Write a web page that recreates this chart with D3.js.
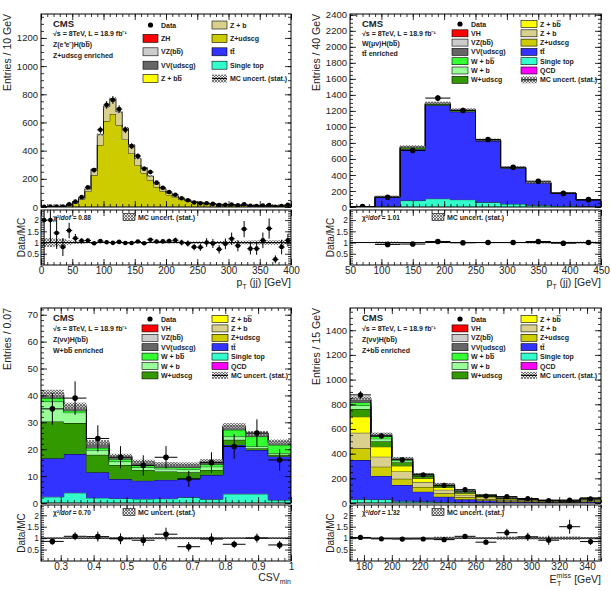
<!DOCTYPE html>
<html>
<head>
<meta charset="utf-8">
<title></title>
<style type="text/css">
*{ margin:0; padding:0; }
body{ background:#fff; }
svg{ display:block; }
</style>
</head>
<body>
<script src="https://cdn.jsdelivr.net/npm/d3@7"></script>
<script>
var FONT = "'Liberation Sans', Arial, Helvetica, sans-serif";

// ---------- panel 1 : Z(ee)H, Z+udscg enriched, pT(jj), 10 GeV bins
var p1Data    = [1,4,4,4,20,38,70,140,262,548,725,760,695,548,432,362,272,248,173,137,107,87,62,48,32,26,27,22,14,16,18,12,20,8,7,10,13,2,6,15];
var p1Zudscg  = [0,1.5,1.8,4,10,25,55,110,225,440,610,660,580,480,380,297,240,190,142,112,86,68,53,43,34,28,23,20,17,14.5,13,12,10.5,9.3,8.1,7.7,6.8,6.8,6.4,11.6];
var p1Zb      = [0.5,0.5,1,1,3,7,10,18,45,75,105,110,95,80,60,48,40,30,23,18,14,11,9,7,6,5,4,3,3,2.5,2.4,2,2,1.7,1.5,1.4,1.2,1.2,1.1,2];
var p1Unc     = [0.1,0.4,0.5,0.8,1.3,2,3,4,6,8,9,9,9,8,7,6,5,5,4,4,3,3,2.5,2.2,2,1.8,1.6,1.5,1.4,1.3,1.2,1.1,1,1,0.9,0.9,0.8,0.8,0.8,1.1];
var p1XTicks  = [0,50,100,150,200,250,300,350,400];
var p1YTicks  = [0,200,400,600,800,1000,1200];

// ---------- panel 2 : W(munu)H, ttbar enriched, pT(jj), 40 GeV bins
var p2Data    = [5,122,705,1360,1205,842,496,322,170,92];
var p2Stop    = [0,8,80,104,92,58,38,21,12,6];
var p2Tt      = [0,115,640,1166,1097,766,446,280,159,84];
var p2Wudscg  = [0,5,20,15,14,9,6,3,2,1];
var p2Wb      = [0,2,6,5,5,3,2,1,1,0.5];
var p2Wbb     = [0,1,4,4,4,3,2,1,0.5,0.3];
var p2VV      = [0,2,6,6,5,3,2,2,0.5,0.2];
var p2Unc     = [0,6,14,16,15,12,10,12,6,4];
var p2XTicks  = [50,100,150,200,250,300,350,400,450];
var p2YTicks  = [0,200,400,600,800,1000,1200,1400,1600,1800,2000,2200,2400];

// ---------- panel 3 : Z(nunu)H, W+bb enriched, CSVmin
var p3Data    = [35,39,24,17,14,17,9,15,21,26,16];
var p3Stop    = [2.3,3.8,1.9,1.7,1.5,1.6,2.1,1.4,3.4,3.4,1.1];
var p3Tt      = [14.3,14.4,9.5,7.2,6.8,7.0,6.8,9.0,18.2,16.3,16.2];
var p3Wudscg  = [13.7,11.5,6.5,5.2,4.0,3.1,2.5,1.9,1.9,0.7,0.6];
var p3Wb      = [7.4,3.9,1.8,1.3,0.9,1.0,1.1,1.2,1.2,0.6,0.6];
var p3Wbb     = [1.3,0.7,0.8,0.9,0.7,0.6,0.7,0.9,2.5,3.7,3.1];
var p3VV      = [1.2,1.2,1.5,0.9,1.1,0.9,0.9,0.9,1.2,0.9,0.9];
var p3VZ      = [0.6,0.6,0.5,0.3,0.4,0.3,0.3,0.3,0.3,0.3,0.3];
var p3Unc     = [1.3,1.2,0.9,0.8,0.7,0.7,0.7,0.7,1.0,0.9,0.8];
var p3XTicks  = [0.3,0.4,0.5,0.6,0.7,0.8,0.9,1];
var p3YTicks  = [0,10,20,30,40,50,60,70];

// ---------- panel 4 : Z(nunu)H, Z+bb enriched, MET, 15 GeV bins
var p4Data    = [876,543,350,228,143,108,56,52,36,20,24,34];
var p4Stop    = [30,28,15,12,8,5,3,2,2,1,1,1];
var p4Tt      = [318,191,131,80,43,25,17,11,9,6,4,10];
var p4Zudscg  = [95,75,50,38,28,18,12,7,6,4,3,7];
var p4Zb      = [126,81,60,40,28,18,12,7,6,4,3,7];
var p4Zbb     = [130,81,45,30,20,13,9,6,4,3,2,6];
var p4Wudscg  = [63,45,30,18,12,9,6,4,3,2,1.5,4];
var p4Wb      = [28,20,12,8,6,4,3,2,1.5,0.8,0.6,2];
var p4Wbb     = [25,18,10,5,4,4,3,1.5,1.5,0.7,0.5,1.5];
var p4VV      = [22,14,8,4,3,3,2,1,0.7,0.3,0.3,1];
var p4VZ      = [13,7,4,2,1,1,1,0.5,0.3,0.2,0.1,0.5];
var p4Unc     = [14,10,7,5,10,4,3,3,2,1.5,1.2,2];
var p4XTicks  = [180,200,220,240,260,280,300,320,340];
var p4YTicks  = [0,200,400,600,800,1000,1200,1400];

var ratioTicks = [0.5,1,1.5,2];

var colors = {
	VH:"#ff0000", VZbb:"#cccccc", VVudscg:"#666666",
	Wbb:"#33ff33", Wb:"#99ff99", Wudscg:"#339900",
	Zbb:"#ffff00", Zb:"#d8d08c", Zudscg:"#cccc00",
	tt:"#3333ff", stop:"#33ffcc", QCD:"#ff00ff"
};
// "~x" puts a bar over the character x
var names = {
	VH:"VH", ZH:"ZH", VZbb:"VZ(b~b)", VVudscg:"VV(udscg)",
	Wbb:"W + b~b", Wb:"W + b", Wudscg:"W+udscg",
	Zbb:"Z + b~b", Zb:"Z + b", Zudscg:"Z+udscg",
	tt:"t~t", stop:"Single top", QCD:"QCD"
};

var svg = d3.select("body").append("svg").attr("width",611).attr("height",591)
	.attr("font-family",FONT);

var defs = svg.append("defs");
var pat = defs.append("pattern").attr("id","hatch").attr("patternUnits","userSpaceOnUse")
	.attr("width",3).attr("height",3);
pat.append("rect").attr("width",3).attr("height",3).attr("fill","#dcdcdc").attr("fill-opacity",0.6);
pat.append("path").attr("d","M0,0L3,3M3,0L0,3").attr("stroke","#444").attr("stroke-width",0.7);

function steps(lo, hi, s){
	var out = [];
	for (var v = Math.ceil(lo/s - 1e-9)*s; v <= hi + 1e-9; v += s) out.push(+v.toFixed(6));
	return out;
}

// text with "~x" -> x with overline
function barText(sel, str){
	str.split(/(~.)/).forEach(function(p){
		if (!p) return;
		if (p[0] == "~") sel.append("tspan").style("text-decoration","overline").text(p[1]);
		else sel.append("tspan").text(p);
	});
	return sel;
}

// inside ticks on one side of a frame, with optional labels
function axis(g, side, scale, pos, vals, len, fmt, size, pad){
	var a = side=="bottom" ? d3.axisBottom(scale) : side=="top" ? d3.axisTop(scale)
		: side=="left" ? d3.axisLeft(scale) : d3.axisRight(scale);
	a.tickValues(vals).tickSize(-len).tickPadding(pad || 3).tickFormat(fmt || function(){ return ""; });
	var tr = (side=="bottom"||side=="top") ? "translate(0,"+pos+")" : "translate("+pos+",0)";
	var ag = g.append("g").attr("transform",tr).call(a);
	ag.attr("font-family",FONT).attr("font-size",size || 10);
	ag.select(".domain").remove();
	ag.selectAll("line").attr("stroke","#000").attr("stroke-width",0.8);
	ag.selectAll("text").attr("fill","#222");
}

function richText(g, x, y, parts, size, anchor, rot){
	var t = g.append("text").attr("font-size",size).attr("fill","#222")
		.attr("text-anchor",anchor || "start");
	if (rot) t.attr("transform","translate("+x+","+y+") rotate(-90)");
	else t.attr("x",x).attr("y",y);
	parts.forEach(function(p){
		var s = t.append("tspan").text(p.t);
		if (p.size) s.attr("font-size",p.size);
		if (p.dy) s.attr("dy",p.dy);
		if (p.dx) s.attr("dx",p.dx);
		if (p.it) s.attr("font-style","italic");
	});
	return t;
}

function drawPanel(c){
	var n = c.data.length;
	var x = d3.scaleLinear().domain([c.xMin, c.xMax]).range([c.left, c.right]);
	var y = d3.scaleLinear().domain([0, c.yMax]).range([c.bottom, c.top]);
	var r = d3.scaleLinear().domain([0, 2.45]).range([c.rBot, c.rTop]);
	var bw = (c.xMax - c.xMin)/n;
	var edges = d3.range(n+1).map(function(i){ return c.xMin + i*bw; });
	var g = svg.append("g");

	defs.append("clipPath").attr("id","cm"+c.id).append("rect")
		.attr("x",c.left).attr("y",c.top).attr("width",c.right-c.left).attr("height",c.bottom-c.top);
	defs.append("clipPath").attr("id","cr"+c.id).append("rect")
		.attr("x",c.left).attr("y",c.rTop).attr("width",c.right-c.left).attr("height",c.rBot-c.rTop);

	// stacked MC
	var keys = c.layers.map(function(l){ return l.key; });
	var rows = d3.range(n).map(function(i){
		var o = {}; c.layers.forEach(function(l){ o[l.key] = l.values[i]; }); return o;
	});
	var series = d3.stack().keys(keys)(rows);
	var total = d3.range(n).map(function(i){ return series[series.length-1][i][1]; });

	var gm = g.append("g").attr("clip-path","url(#cm"+c.id+")");
	var area = d3.area().curve(d3.curveStepAfter)
		.x(function(d){ return x(d.e); }).y0(function(d){ return y(d.y0); }).y1(function(d){ return y(d.y1); });
	var line = d3.line().curve(d3.curveStepAfter)
		.x(function(d){ return x(d.e); }).y(function(d){ return y(d.y1); });
	series.forEach(function(s){
		var pts = edges.map(function(e,i){ var b = s[Math.min(i,n-1)]; return {e:e, y0:b[0], y1:b[1]}; });
		gm.append("path").attr("d",area(pts)).attr("fill",colors[s.key]);
		var lp = [{e:edges[0], y1:s[0][0]}].concat(pts).concat([{e:edges[n], y1:s[n-1][0]}]);
		gm.append("path").attr("d",line(lp)).attr("fill","none").attr("stroke","#000").attr("stroke-width",0.8);
	});

	// MC stat. uncertainty band
	gm.selectAll("rect.unc").data(total).join("rect").attr("class","unc")
		.attr("x",function(d,i){ return x(edges[i]); })
		.attr("width",function(d,i){ return x(edges[i+1]) - x(edges[i]); })
		.attr("y",function(d,i){ return y(d + c.unc[i]); })
		.attr("height",function(d,i){ return y(d - c.unc[i]) - y(d + c.unc[i]); })
		.attr("fill","url(#hatch)");

	// data points
	c.data.forEach(function(d,i){
		var cx = x(edges[i] + bw/2), e = Math.sqrt(d);
		gm.append("line").attr("x1",x(edges[i])).attr("x2",x(edges[i+1])).attr("y1",y(d)).attr("y2",y(d))
			.attr("stroke","#000").attr("stroke-width",1);
		gm.append("line").attr("x1",cx).attr("x2",cx).attr("y1",y(d-e)).attr("y2",y(d+e))
			.attr("stroke","#000").attr("stroke-width",1);
		gm.append("circle").attr("cx",cx).attr("cy",y(d)).attr("r",c.r || 2.6).attr("fill","#000");
	});

	// ratio panel
	var gr = g.append("g").attr("clip-path","url(#cr"+c.id+")");
	total.forEach(function(t,i){
		if (t <= 0) return;
		var u = c.unc[i]/t;
		gr.append("rect").attr("x",x(edges[i])).attr("width",x(edges[i+1])-x(edges[i]))
			.attr("y",r(1+u)).attr("height",r(1-u)-r(1+u)).attr("fill","url(#hatch)");
	});
	gr.append("line").attr("x1",c.left).attr("x2",c.right).attr("y1",r(1)).attr("y2",r(1))
		.attr("stroke","#000").attr("stroke-width",1);
	c.data.forEach(function(d,i){
		var t = total[i];
		if (t <= 0 || d <= 0) return;
		var q = d/t, e = Math.sqrt(d)/t, cx = x(edges[i] + bw/2);
		gr.append("line").attr("x1",x(edges[i])).attr("x2",x(edges[i+1])).attr("y1",r(q)).attr("y2",r(q))
			.attr("stroke","#000").attr("stroke-width",1);
		gr.append("line").attr("x1",cx).attr("x2",cx).attr("y1",r(q-e)).attr("y2",r(q+e))
			.attr("stroke","#000").attr("stroke-width",1);
		gr.append("circle").attr("cx",cx).attr("cy",r(q)).attr("r",c.r || 2.6).attr("fill","#000");
	});

	// frames and ticks
	[[c.top,c.bottom],[c.rTop,c.rBot]].forEach(function(f){
		g.append("rect").attr("x",c.left).attr("y",f[0]).attr("width",c.right-c.left).attr("height",f[1]-f[0])
			.attr("fill","none").attr("stroke","#000").attr("stroke-width",1);
	});
	var xMinor = steps(c.xMin, c.xMax, c.xMinor);
	[c.top, c.bottom, c.rTop].forEach(function(p, k){
		var side = k==1 ? "bottom" : "top";
		axis(g, side, x, p, xMinor, 3);
		axis(g, side, x, p, c.xTicks, 6);
	});
	axis(g, "bottom", x, c.rBot, xMinor, 3);
	axis(g, "bottom", x, c.rBot, c.xTicks, 6, function(d){ return d; }, 10, 2);
	var yMinor = steps(0, c.yMax, c.yMinor);
	axis(g, "left", y, c.left, yMinor, 3);
	axis(g, "left", y, c.left, c.yTicks, 6, function(d){ return d; }, 9.5, 3);
	axis(g, "right", y, c.right, yMinor, 3);
	axis(g, "right", y, c.right, c.yTicks, 6);
	var rMinor = steps(0.1, 2.4, 0.1);
	axis(g, "left", r, c.left, rMinor, 3);
	axis(g, "left", r, c.left, ratioTicks, 6, function(d){ return d; }, 8.5, 2);
	axis(g, "right", r, c.right, rMinor, 3);
	axis(g, "right", r, c.right, ratioTicks, 6);

	// titles
	richText(g, c.left - 30, c.top, [{t:c.yTitle}], 10.5, "end", true);
	richText(g, c.left - 16, (c.rTop + c.rBot)/2, [{t:"Data/MC"}], 10, "middle", true);
	richText(g, c.right, c.rBot + c.xTitleDy, c.xTitle, 10.5, "end");

	// CMS block
	var tx = c.left + 12;
	g.append("text").attr("x",tx).attr("y",c.cmsY[0]).attr("font-size",9.5).attr("font-weight","bold")
		.attr("fill","#222").text("CMS");
	c.cmsLines.forEach(function(s,i){
		barText(g.append("text").attr("x",tx).attr("y",c.cmsY[i+1]).attr("font-size",7).attr("font-weight","bold")
			.attr("fill","#222"), s);
	});

	// legend
	var L = c.legend;
	function item(col, row, key){
		var bx = col==0 ? L.x1 : L.x2, cy = L.y0 + row*L.dy;
		if (key == "data"){
			g.append("circle").attr("cx",bx + L.w/2).attr("cy",cy).attr("r",2.6).attr("fill","#000");
		} else if (key == "unc"){
			g.append("rect").attr("x",bx).attr("y",cy-L.h/2).attr("width",L.w).attr("height",L.h).attr("fill","url(#hatch)");
			g.append("line").attr("x1",bx).attr("x2",bx+L.w).attr("y1",cy).attr("y2",cy).attr("stroke","#000").attr("stroke-width",1);
		} else {
			g.append("rect").attr("x",bx).attr("y",cy-L.h/2).attr("width",L.w).attr("height",L.h)
				.attr("fill",colors[key=="ZH"?"VH":key]).attr("stroke","#000").attr("stroke-width",0.6);
		}
		var lab = key=="data" ? "Data" : key=="unc" ? "MC uncert. (stat.)" : names[key];
		barText(g.append("text").attr("x",bx + L.w + 3).attr("y",cy + 2.5).attr("font-size",7).attr("font-weight","bold")
			.attr("fill","#222"), lab);
	}
	L.col1.forEach(function(k,i){ item(0,i,k); });
	L.col2.forEach(function(k,i){ item(1,i,k); });

	// ratio legend
	var ry = c.rTop + 7;
	richText(g, c.left + 12, ry + 2.5, [{t:"\u03c7\u00b2/"},{t:"dof",it:true},{t:" = " + c.chi2}], 6.5, "start")
		.attr("font-weight","bold");
	g.append("rect").attr("x",c.left + 82).attr("y",ry-3.5).attr("width",12).attr("height",7)
		.attr("fill","url(#hatch)").attr("stroke","#000").attr("stroke-width",0.6);
	g.append("text").attr("x",c.left + 97).attr("y",ry + 2.5).attr("font-size",7).attr("font-weight","bold")
		.attr("fill","#222").text("MC uncert. (stat.)");
}

var sqrtS = "\u221as =  8TeV, L = 18.9 fb\u207b\u00b9";

drawPanel({
	id:1, left:41, right:291, top:14, bottom:207, rTop:210, rBot:265,
	xMin:0, xMax:400, yMax:1370, xTicks:p1XTicks, xMinor:10, yTicks:p1YTicks, yMinor:50, r:2.3,
	data:p1Data, unc:p1Unc,
	layers:[{key:"Zudscg", values:p1Zudscg},{key:"Zb", values:p1Zb}],
	yTitle:"Entries / 10 GeV", xTitleDy:21,
	xTitle:[{t:"p"},{t:"T",size:7,dy:3},{t:" (jj) [GeV]",size:10.5,dy:-3}],
	cmsY:[27,36,47,58], cmsLines:[sqrtS,"Z(e\u207ae\u207b)H(b~b)","Z+udscg enriched"],
	legend:{x1:143, x2:212, y0:25, dy:13.4, w:15, h:8,
		col1:["data","ZH","VZbb","VVudscg","Zbb"], col2:["Zb","Zudscg","tt","stop","unc"]},
	chi2:"0.88"
});

drawPanel({
	id:2, left:350, right:601, top:14, bottom:207, rTop:210, rBot:265,
	xMin:50, xMax:450, yMax:2410, xTicks:p2XTicks, xMinor:10, yTicks:p2YTicks, yMinor:50, r:2.8,
	data:p2Data, unc:p2Unc,
	layers:[{key:"stop",values:p2Stop},{key:"tt",values:p2Tt},{key:"Wudscg",values:p2Wudscg},
		{key:"Wb",values:p2Wb},{key:"Wbb",values:p2Wbb},{key:"VVudscg",values:p2VV}],
	yTitle:"Entries / 40 GeV", xTitleDy:21,
	xTitle:[{t:"p"},{t:"T",size:7,dy:3},{t:" (jj) [GeV]",size:10.5,dy:-3}],
	cmsY:[27,36,46,56], cmsLines:[sqrtS,"W(\u03bc\u03bd)H(b~b)","t~t enriched"],
	legend:{x1:452, x2:521, y0:24, dy:9.3, w:16, h:7,
		col1:["data","VH","VZbb","VVudscg","Wbb","Wb","Wudscg"],
		col2:["Zbb","Zb","Zudscg","tt","stop","QCD","unc"]},
	chi2:"1.01"
});

drawPanel({
	id:3, left:41, right:291, top:308, bottom:503, rTop:505, rBot:561,
	xMin:0.24, xMax:1, yMax:72.5, xTicks:p3XTicks, xMinor:0.02, yTicks:p3YTicks, yMinor:2, r:2.8,
	data:p3Data, unc:p3Unc,
	layers:[{key:"stop",values:p3Stop},{key:"tt",values:p3Tt},{key:"Wudscg",values:p3Wudscg},
		{key:"Wb",values:p3Wb},{key:"Wbb",values:p3Wbb},{key:"VVudscg",values:p3VV},{key:"VZbb",values:p3VZ}],
	yTitle:"Entries / 0.07", xTitleDy:20,
	xTitle:[{t:"CSV"},{t:"min",size:7,dy:3}],
	cmsY:[321,331,342,353], cmsLines:[sqrtS,"Z(\u03bd\u03bd)H(b~b)","W+b~b enriched"],
	legend:{x1:142, x2:212, y0:319, dy:9.4, w:16, h:7,
		col1:["data","VH","VZbb","VVudscg","Wbb","Wb","Wudscg"],
		col2:["Zbb","Zb","Zudscg","tt","stop","QCD","unc"]},
	chi2:"0.70"
});

drawPanel({
	id:4, left:350, right:601, top:308, bottom:503, rTop:505, rBot:561,
	xMin:170, xMax:350, yMax:1580, xTicks:p4XTicks, xMinor:5, yTicks:p4YTicks, yMinor:50, r:2.6,
	data:p4Data, unc:p4Unc,
	layers:[{key:"stop",values:p4Stop},{key:"tt",values:p4Tt},{key:"Zudscg",values:p4Zudscg},
		{key:"Zb",values:p4Zb},{key:"Zbb",values:p4Zbb},{key:"Wudscg",values:p4Wudscg},
		{key:"Wb",values:p4Wb},{key:"Wbb",values:p4Wbb},{key:"VVudscg",values:p4VV},{key:"VZbb",values:p4VZ}],
	yTitle:"Entries / 15 GeV", xTitleDy:22,
	xTitle:[{t:"E"},{t:"miss",size:7,dy:-5},{t:"T",size:7,dx:-14,dy:8},{t:" [GeV]",size:10.5,dx:10,dy:-3}],
	cmsY:[321,331,342,353], cmsLines:[sqrtS,"Z(\u03bd\u03bd)H(b~b)","Z+b~b enriched"],
	legend:{x1:452, x2:521, y0:319, dy:9.4, w:16, h:7,
		col1:["data","VH","VZbb","VVudscg","Wbb","Wb","Wudscg"],
		col2:["Zbb","Zb","Zudscg","tt","stop","QCD","unc"]},
	chi2:"1.32"
});
</script>
</body>
</html>
